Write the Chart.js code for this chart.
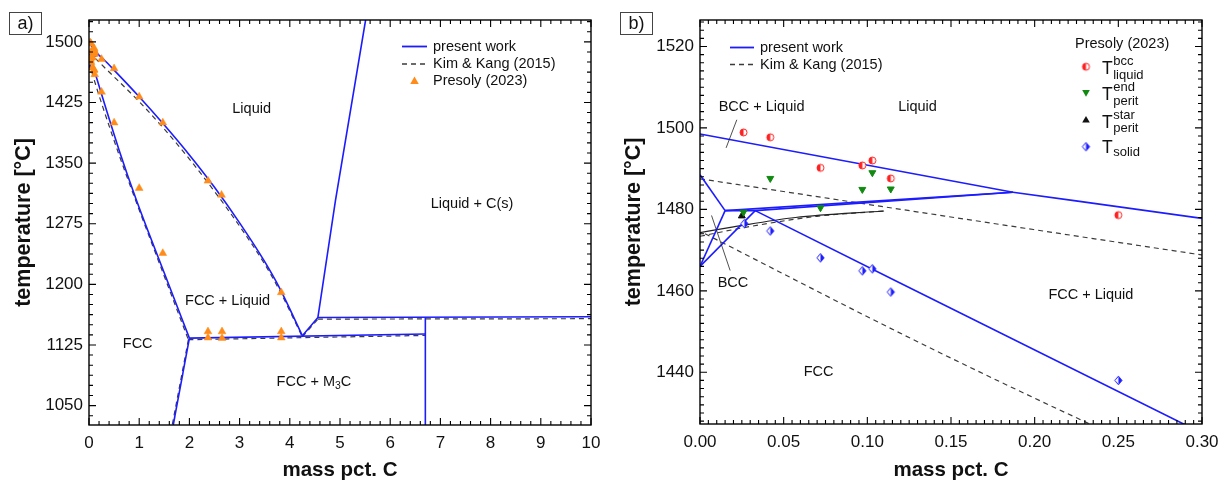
<!DOCTYPE html>
<html>
<head>
<meta charset="utf-8">
<script src="https://cdn.jsdelivr.net/npm/chart.js@4.4.0/dist/chart.umd.min.js"></script>
<style>
  body { margin: 0; background: #fff; }
  #wrap { position: relative; width: 1228px; height: 485px; }
  #chartA { position: absolute; left: 0; top: 0; }
  #chartB { position: absolute; left: 610px; top: 0; }
</style>
</head>
<body>
<div id="wrap">
  <canvas id="chartA" width="610" height="485"></canvas>
  <canvas id="chartB" width="618" height="485"></canvas>
</div>
<script>
// ---- data: [mass pct. C, temperature °C] ----

// present work (blue)
const liquidusBcc = [[0, 1498.5], [0.187, 1484.2]];
const liquidusFcc = [[0.187, 1484.2], [0.3, 1477.8], [0.5, 1465], [1.0, 1432], [1.5, 1397], [2.0, 1360],
                     [2.5, 1320], [3.0, 1276], [3.5, 1228], [3.8, 1195], [4.25, 1136.5]];
const bccSolidus = [[0, 1488.5], [0.015, 1479.7]];
const bccLower = [[0, 1466], [0.015, 1479.7]];
const fccUpper = [[0, 1466], [0.033, 1479.7]];
const perit1 = [[0.015, 1479.7], [0.033, 1479.7], [0.187, 1484.2]];
const perit2 = [[0.015, 1479.7], [0.187, 1484.2]];
const solidus = [[0.033, 1479.7], [0.289, 1427.3], [0.6, 1366], [0.94, 1305], [1.5, 1214], [2.0, 1133.5]];
const eutectic = [[2.0, 1133.5], [6.7, 1138.6]];
const acm = [[2.0, 1133.5], [1.66, 1020]];
const graphiteLiq = [[4.25, 1136.5], [4.56, 1159], [4.91, 1304], [5.51, 1527]];
const graphiteEut = [[4.56, 1159], [10, 1160]];
const cementite = [[6.7, 1159], [6.7, 1020]];

// Kim & Kang (2015) (black dashed)
const kkLiquidus = [[0, 1487.5], [0.3, 1468.8], [1.0, 1426], [1.5, 1392], [2.0, 1355], [2.5, 1315],
                    [3.0, 1272], [3.5, 1225], [3.8, 1192], [4.25, 1135]];
const kkSolidus = [[0.003, 1474], [0.13, 1447.5], [0.233, 1427.3], [0.6, 1360], [0.94, 1302], [1.5, 1210], [1.98, 1131.5]];
const kkPerit = [[0, 1474.3], [0.02, 1475.7], [0.057, 1478], [0.11, 1479.6]];
const kkPerit2 = [[0, 1473.4], [0.03, 1475.8], [0.07, 1478.3], [0.11, 1479.6]];
const kkEutectic = [[1.98, 1131.5], [6.7, 1136.8]];
const kkAcm = [[1.98, 1131.5], [1.64, 1020]];
const kkV = [[4.25, 1135], [4.56, 1157]];
const kkGraphiteEut = [[4.56, 1157], [10, 1157.5]];

// Presoly (2023)
const tLiquidBcc = [[0.026, 1498.9], [0.042, 1497.7], [0.072, 1490.2], [0.097, 1490.8], [0.103, 1492], [0.114, 1487.6], [0.25, 1478.6]];
const tPeritEnd = [[0.026, 1479.3], [0.042, 1487.6], [0.072, 1480.4], [0.097, 1484.9], [0.103, 1489], [0.114, 1485]];
const tPeritStart = [[0.025, 1478.4]];
const tSolid = [[0.0265, 1476.5], [0.042, 1474.7], [0.072, 1468.1], [0.097, 1464.9], [0.103, 1465.4], [0.114, 1459.7], [0.25, 1438]];
const presolyHighC = [[0.5, 1467], [0.5, 1400], [1.0, 1432], [1.0, 1319], [1.47, 1400], [1.47, 1238.5],
                      [2.37, 1328], [2.64, 1310.5], [3.83, 1190], [2.37, 1141.6], [2.37, 1134],
                      [2.65, 1141.6], [2.65, 1133.4], [3.83, 1141.6], [3.83, 1134]];

// ticks
const xTicksA = [0, 1, 2, 3, 4, 5, 6, 7, 8, 9, 10];
const yTicksA = [1050, 1125, 1200, 1275, 1350, 1425, 1500];
const xTicksB = [0, 0.05, 0.10, 0.15, 0.20, 0.25, 0.30];
const yTicksB = [1440, 1460, 1480, 1500, 1520];

// ---- styles ----
const FONT = "'Liberation Sans', Arial, Helvetica, sans-serif";
Chart.defaults.font.family = FONT;
Chart.defaults.color = '#111';

const BLUE = '#1c1cff';
const DASH = 'rgba(25,25,25,0.85)';
const ORANGE = '#ff8c1a';
const RED = '#ff2020';
const GREEN = '#128a12';
const BLACK = '#111';

const pts = arr => arr.map(([x, y]) => ({x, y}));

function line(data, opts) {
  return Object.assign({
    data: pts(data), borderColor: BLUE, borderWidth: 1.6,
    pointRadius: 0, fill: false, tension: 0, showLine: true
  }, opts || {});
}
function dashed(data, opts) {
  return line(data, Object.assign({borderColor: DASH, borderWidth: 1.2, borderDash: [5, 4]}, opts || {}));
}
const smooth = {cubicInterpolationMode: 'monotone'};

function markerCanvas(shape, color) {
  const c = document.createElement('canvas');
  c.width = 11; c.height = 11;
  const g = c.getContext('2d');
  const cx = 5.5, cy = 5.5;
  g.lineWidth = 1; g.strokeStyle = color;
  if (shape === 'circle') {
    const r = 3.5;
    g.beginPath(); g.arc(cx, cy, r, 0, Math.PI * 2); g.fillStyle = '#fff'; g.fill();
    g.beginPath(); g.arc(cx, cy, r, Math.PI / 2, Math.PI * 1.5); g.closePath(); g.fillStyle = color; g.fill();
    g.beginPath(); g.arc(cx, cy, r, 0, Math.PI * 2); g.stroke();
  } else {
    const h = 4.3, w = 3.6;
    g.beginPath(); g.moveTo(cx, cy - h); g.lineTo(cx + w, cy); g.lineTo(cx, cy + h); g.lineTo(cx - w, cy); g.closePath();
    g.fillStyle = '#fff'; g.fill();
    g.beginPath(); g.moveTo(cx, cy - h); g.lineTo(cx + w, cy); g.lineTo(cx, cy + h); g.closePath();
    g.fillStyle = color; g.fill();
    g.beginPath(); g.moveTo(cx, cy - h); g.lineTo(cx + w, cy); g.lineTo(cx, cy + h); g.lineTo(cx - w, cy); g.closePath();
    g.stroke();
  }
  return c;
}
const halfCircleRed = markerCanvas('circle', RED);
const halfDiamondBlue = markerCanvas('diamond', BLUE);

function scatter(data, opts) {
  return Object.assign({data: pts(data), showLine: false, pointBorderWidth: 1}, opts);
}

// ---- decorations: frame, inward ticks, titles, labels, legends ----
function drawRich(ctx, parts, x, y, size) {
  // parts: strings, or {sub: '3'}
  let w = 0;
  const widths = parts.map(p => {
    ctx.font = (typeof p === 'string' ? size : size * 0.72) + 'px ' + FONT;
    const m = ctx.measureText(typeof p === 'string' ? p : p.sub).width;
    w += m; return m;
  });
  let cx = x - w / 2;
  ctx.textAlign = 'left'; ctx.textBaseline = 'middle';
  parts.forEach((p, i) => {
    if (typeof p === 'string') { ctx.font = size + 'px ' + FONT; ctx.fillText(p, cx, y); }
    else { ctx.font = size * 0.72 + 'px ' + FONT; ctx.fillText(p.sub, cx, y + size * 0.32); }
    cx += widths[i];
  });
}

function drawTriangle(ctx, x, y, r, down, color) {
  const s = down ? -1 : 1;
  ctx.beginPath();
  ctx.moveTo(x, y - s * r);
  ctx.lineTo(x + r * 0.95, y + s * r * 0.65);
  ctx.lineTo(x - r * 0.95, y + s * r * 0.65);
  ctx.closePath();
  ctx.fillStyle = color; ctx.fill();
}

const decor = {
  id: 'decor',
  afterDraw(chart, args, o) {
    const ctx = chart.ctx, a = chart.chartArea, xs = chart.scales.x, ys = chart.scales.y;
    ctx.save();
    ctx.fillStyle = '#111';
    ctx.strokeStyle = '#000';

    // frame
    ctx.lineWidth = 1.4;
    ctx.strokeRect(a.left, a.top, a.right - a.left, a.bottom - a.top);

    // ticks (inside, all four sides)
    ctx.lineWidth = 1.1;
    const ticks = (majors, minor, min, max, horiz) => {
      const m0 = majors[0];
      ctx.beginPath();
      for (let k = Math.ceil((min - m0) / minor - 1e-6); m0 + k * minor <= max + 1e-9; k++) {
        const v = m0 + k * minor;
        const len = majors.some(m => Math.abs(m - v) < minor / 100) ? 7 : 4;
        if (horiz) {
          const p = xs.getPixelForValue(v);
          ctx.moveTo(p, a.bottom); ctx.lineTo(p, a.bottom - len);
          ctx.moveTo(p, a.top); ctx.lineTo(p, a.top + len);
        } else {
          const p = ys.getPixelForValue(v);
          ctx.moveTo(a.left, p); ctx.lineTo(a.left + len, p);
          ctx.moveTo(a.right, p); ctx.lineTo(a.right - len, p);
        }
      }
      ctx.stroke();
    };
    ticks(o.xTicks, o.xMinor, xs.min, xs.max, true);
    ticks(o.yTicks, o.yMinor, ys.min, ys.max, false);

    // axis titles
    ctx.fillStyle = '#111';
    ctx.textAlign = 'center'; ctx.textBaseline = 'alphabetic';
    ctx.font = 'bold 20.5px ' + FONT;
    ctx.fillText(o.xTitle, (a.left + a.right) / 2, 476);
    ctx.save();
    ctx.font = 'bold 21.5px ' + FONT;
    ctx.translate(30, (a.top + a.bottom) / 2);
    ctx.rotate(-Math.PI / 2);
    ctx.fillText(o.yTitle, 0, 0);
    ctx.restore();

    // panel tag
    ctx.lineWidth = 1;
    ctx.strokeStyle = '#444';
    ctx.strokeRect(o.tagBox[0] + 0.5, o.tagBox[1] + 0.5, o.tagBox[2], o.tagBox[3]);
    ctx.font = '18px ' + FONT;
    ctx.textAlign = 'center'; ctx.textBaseline = 'middle';
    ctx.fillText(o.tag, o.tagBox[0] + o.tagBox[2] / 2 + 0.5, o.tagBox[1] + o.tagBox[3] / 2 + 1);

    // region labels (data coordinates)
    ctx.fillStyle = '#111';
    for (const lb of o.labels) {
      drawRich(ctx, lb.parts, xs.getPixelForValue(lb.at[0]), ys.getPixelForValue(lb.at[1]), 14.5);
    }
    // leader lines (data coordinates)
    ctx.strokeStyle = '#222'; ctx.lineWidth = 0.8;
    for (const l of o.leaders || []) {
      ctx.beginPath();
      ctx.moveTo(xs.getPixelForValue(l[0]), ys.getPixelForValue(l[1]));
      ctx.lineTo(xs.getPixelForValue(l[2]), ys.getPixelForValue(l[3]));
      ctx.stroke();
    }

    if (o.legend) o.legend(ctx);
    ctx.restore();
  }
};
Chart.register(decor);

function legendLines(ctx, x1, x2, tx, rows) {
  ctx.font = '14.5px ' + FONT;
  ctx.textAlign = 'left'; ctx.textBaseline = 'middle';
  rows.forEach(r => {
    if (r.kind === 'solid' || r.kind === 'dash') {
      ctx.save();
      ctx.beginPath();
      ctx.strokeStyle = r.kind === 'solid' ? BLUE : DASH;
      ctx.lineWidth = r.kind === 'solid' ? 1.8 : 1.4;
      if (r.kind === 'dash') ctx.setLineDash([5, 4]);
      ctx.moveTo(x1, r.y); ctx.lineTo(x2, r.y); ctx.stroke();
      ctx.restore();
    } else {
      drawTriangle(ctx, (x1 + x2) / 2, r.y, 4.5, false, ORANGE);
    }
    ctx.fillStyle = '#111';
    ctx.fillText(r.text, tx, r.y);
  });
}

function legendA(ctx) {
  legendLines(ctx, 402, 427, 433, [
    {kind: 'solid', y: 46.5, text: 'present work'},
    {kind: 'dash', y: 64, text: 'Kim & Kang (2015)'},
    {kind: 'tri', y: 81, text: 'Presoly (2023)'}
  ]);
}

function legendB(ctx) {
  legendLines(ctx, 120, 144, 150, [
    {kind: 'solid', y: 47.5, text: 'present work'},
    {kind: 'dash', y: 64.5, text: 'Kim & Kang (2015)'}
  ]);
  ctx.fillStyle = '#111';
  ctx.font = '14.5px ' + FONT;
  ctx.textAlign = 'left'; ctx.textBaseline = 'middle';
  ctx.fillText('Presoly (2023)', 465, 43.5);
  const mx = 476, tx = 492;
  const rows = [
    {y: 66.7, mk: 'red', sup: 'bcc', sub: 'liquid'},
    {y: 92.7, mk: 'green', sup: 'end', sub: 'perit'},
    {y: 120, mk: 'black', sup: 'star', sub: 'perit'},
    {y: 146.7, mk: 'blue', sub: 'solid'}
  ];
  rows.forEach(r => {
    if (r.mk === 'red') ctx.drawImage(halfCircleRed, mx - 5.5, r.y - 5.5);
    else if (r.mk === 'blue') ctx.drawImage(halfDiamondBlue, mx - 5.5, r.y - 5.5);
    else drawTriangle(ctx, mx, r.y, 4, r.mk === 'green', r.mk === 'green' ? GREEN : BLACK);
    ctx.fillStyle = '#111';
    ctx.textBaseline = 'alphabetic';
    ctx.font = '17.5px ' + FONT;
    const base = r.sup ? r.y + 7.5 : r.y + 6.5;
    ctx.fillText('T', tx, base);
    const sx = tx + ctx.measureText('T').width + 0.5;
    ctx.font = '13px ' + FONT;
    if (r.sup) ctx.fillText(r.sup, sx, r.y - 1.5);
    ctx.fillText(r.sub, sx, r.sup ? r.y + 12 : r.y + 9);
  });
}

function scales(xr, yr, xTicks, yTicks, fmtX, fmtY, yWidth, xHeight) {
  return {
    x: {
      type: 'linear', min: xr[0], max: xr[1],
      grid: {display: false, drawTicks: false}, border: {display: false},
      afterBuildTicks: s => { s.ticks = xTicks.map(v => ({value: v})); },
      afterFit: s => { s.height = xHeight; },
      ticks: {font: {size: 17}, color: '#111', padding: 8, maxRotation: 0, autoSkip: false, callback: fmtX}
    },
    y: {
      type: 'linear', min: yr[0], max: yr[1],
      grid: {display: false, drawTicks: false}, border: {display: false},
      afterBuildTicks: s => { s.ticks = yTicks.map(v => ({value: v})); },
      afterFit: s => { s.width = yWidth; },
      ticks: {font: {size: 17}, color: '#111', padding: 6, autoSkip: false, callback: fmtY}
    }
  };
}

// present work + Kim & Kang lines, shared by both panels (each clips to its own axes)
function phaseLines() {
  return [
    line(liquidusBcc), line(liquidusFcc, smooth), line(bccSolidus), line(bccLower), line(fccUpper),
    line(perit1), line(perit2), line(solidus, smooth), line(eutectic), line(acm),
    line(graphiteLiq), line(graphiteEut), line(cementite),
    dashed(kkLiquidus, smooth), dashed(kkSolidus, smooth), line(kkPerit, {borderColor: '#222', borderWidth: 1.1, ...smooth}),
    dashed(kkPerit2, smooth), dashed(kkEutectic), dashed(kkAcm), dashed(kkV), dashed(kkGraphiteEut)
  ];
}

const commonOpts = {
  responsive: false, animation: false, events: [], devicePixelRatio: 1
};

// panel a)
new Chart(document.getElementById('chartA'), {
  type: 'line',
  data: {
    datasets: [
      scatter(tLiquidBcc.concat(tPeritEnd, tPeritStart, tSolid, presolyHighC), {
        pointStyle: 'triangle', pointRadius: 4.5, backgroundColor: ORANGE, borderColor: ORANGE, pointBorderWidth: 0.5
      }),
      ...phaseLines()
    ]
  },
  options: {
    ...commonOpts,
    layout: {padding: {left: 0, top: 20, right: 19, bottom: 0}},
    scales: scales([0, 10], [1026, 1527], xTicksA, yTicksA, v => String(v), v => String(v), 89, 60),
    plugins: {
      legend: {display: false}, tooltip: {enabled: false},
      decor: {
        tag: 'a)', tagBox: [9, 12, 32, 22],
        xTicks: xTicksA, yTicks: yTicksA, xMinor: 0.2, yMinor: 12.5,
        xTitle: 'mass pct. C', yTitle: 'temperature [°C]',
        labels: [
          {parts: ['Liquid'], at: [3.24, 1416.8]},
          {parts: ['Liquid + C(s)'], at: [7.63, 1299]},
          {parts: ['FCC + Liquid'], at: [2.76, 1179.5]},
          {parts: ['FCC'], at: [0.97, 1126.4]},
          {parts: ['FCC + M', {sub: '3'}, 'C'], at: [4.48, 1079.4]}
        ],
        legend: legendA
      }
    }
  }
});

// panel b)
new Chart(document.getElementById('chartB'), {
  type: 'line',
  data: {
    datasets: [
      scatter(tLiquidBcc, {pointStyle: halfCircleRed}),
      scatter(tPeritEnd, {pointStyle: 'triangle', rotation: 180, pointRadius: 4, backgroundColor: GREEN, borderColor: GREEN}),
      scatter(tPeritStart, {pointStyle: 'triangle', pointRadius: 4, backgroundColor: BLACK, borderColor: BLACK}),
      scatter(tSolid, {pointStyle: halfDiamondBlue}),
      ...phaseLines()
    ]
  },
  options: {
    ...commonOpts,
    layout: {padding: {left: 0, top: 20, right: 26, bottom: 0}},
    scales: scales([0, 0.3], [1427.3, 1526.5], xTicksB, yTicksB, v => v.toFixed(2), v => String(v), 90, 61),
    plugins: {
      legend: {display: false}, tooltip: {enabled: false},
      decor: {
        tag: 'b)', tagBox: [10, 12, 32, 22],
        xTicks: xTicksB, yTicks: yTicksB, xMinor: 0.005, yMinor: 2,
        xTitle: 'mass pct. C', yTitle: 'temperature [°C]',
        labels: [
          {parts: ['BCC + Liquid'], at: [0.0368, 1505.2]},
          {parts: ['Liquid'], at: [0.130, 1505.2]},
          {parts: ['BCC'], at: [0.0197, 1461.8]},
          {parts: ['FCC'], at: [0.0709, 1440.0]},
          {parts: ['FCC + Liquid'], at: [0.2336, 1458.9]}
        ],
        leaders: [
          [0.022, 1502, 0.0156, 1495.1],
          [0.0069, 1478.5, 0.018, 1465]
        ],
        legend: legendB
      }
    }
  }
});
</script>
</body>
</html>
